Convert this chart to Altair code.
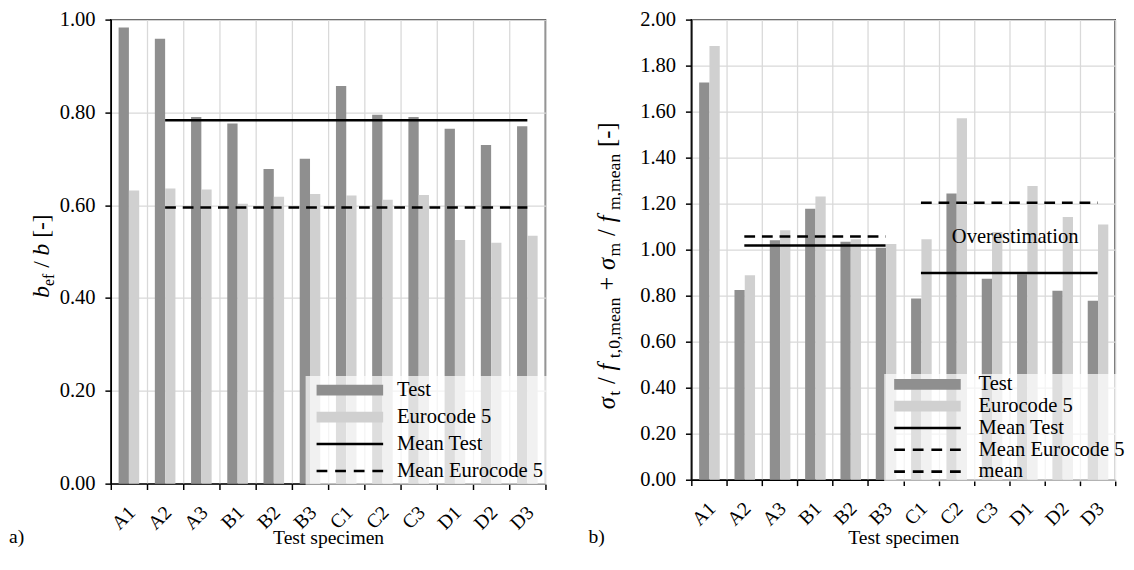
import altair as alt
import pandas as pd

FONT = "Liberation Serif"
DARK = "#8f8f8f"
LIGHT = "#d0d0d0"

SPECIMENS = ["A1", "A2", "A3", "B1", "B2", "B3", "C1", "C2", "C3", "D1", "D2", "D3"]
SERIES = ["Test", "Eurocode 5"]

# panel a)
LEFT_TEST = [0.983, 0.959, 0.790, 0.776, 0.678, 0.700, 0.857, 0.795, 0.790, 0.765, 0.730, 0.770]
LEFT_EC5 = [0.632, 0.636, 0.634, 0.603, 0.618, 0.624, 0.621, 0.612, 0.622, 0.525, 0.519, 0.534]
LEFT_MEAN_LABELS = ["Mean Test", "Mean Eurocode 5"]
LEFT_MEAN_VALUES = [0.783, 0.595]
LEFT_MEAN_FROM = ["A2", "A2"]
LEFT_MEAN_TO = ["D3", "D3"]
LEFT_TICKS = [0.0, 0.2, 0.4, 0.6, 0.8, 1.0]

# panel b)
RIGHT_TEST = [1.727, 0.825, 1.041, 1.178, 1.034, 1.008, 0.788, 1.244, 0.874, 0.893, 0.821, 0.778]
RIGHT_EC5 = [1.885, 0.889, 1.084, 1.231, 1.045, 1.025, 1.045, 1.571, 1.077, 1.277, 1.142, 1.109]
RIGHT_MEAN_LABELS = ["Mean Test", "Mean Eurocode 5", "Mean Test", "mean"]
RIGHT_MEAN_VALUES = [1.018, 1.057, 0.899, 1.204]
RIGHT_MEAN_FROM = ["A2", "A2", "C1", "C1"]
RIGHT_MEAN_TO = ["B3", "B3", "D3", "D3"]
RIGHT_TICKS = [0.0, 0.2, 0.4, 0.6, 0.8, 1.0, 1.2, 1.4, 1.6, 1.8, 2.0]
ANNOTATION = ["Overestimation"]
ANNOTATION_SPEC = ["D1"]
ANNOTATION_VALUE = [1.054]

LEGEND_LEFT = ["Test", "Eurocode 5", "Mean Test", "Mean Eurocode 5"]
LEGEND_RIGHT = ["Test", "Eurocode 5", "Mean Test", "Mean Eurocode 5", "mean"]

# legend swatch shapes (unit = 10 px with symbolSize 400)
BAR_PATH = "M-1,-0.55L5.8,-0.55L5.8,0.55L-1,0.55Z"
SOLID_PATH = "M-1,-0.13L5.8,-0.13L5.8,0.13L-1,0.13Z"
DASH_PATH = ("M-1,-0.13L0.1,-0.13L0.1,0.13L-1,0.13Z "
             "M0.9,-0.13L2,-0.13L2,0.13L0.9,0.13Z "
             "M2.8,-0.13L3.9,-0.13L3.9,0.13L2.8,0.13Z "
             "M4.7,-0.13L5.8,-0.13L5.8,0.13L4.7,0.13Z")
STYLE_COLOR = {"Test": DARK, "Eurocode 5": LIGHT, "Mean Test": "black",
               "Mean Eurocode 5": "black", "mean": "black"}
STYLE_SHAPE = {"Test": BAR_PATH, "Eurocode 5": BAR_PATH, "Mean Test": SOLID_PATH,
               "Mean Eurocode 5": DASH_PATH, "mean": DASH_PATH}
STYLE_DASH = {"Mean Test": [1, 0], "Mean Eurocode 5": [11, 7], "mean": [11, 7]}

# glyph widths (em) for building the y titles from pieces
WIDTHS = {" ": 0.25, "/": 0.278, "[": 0.333, "]": 0.333, "-": 0.333, "+": 0.564,
          ",": 0.25, "0": 0.5, "e": 0.444, "f": 0.333, "t": 0.278, "m": 0.778,
          "a": 0.444, "n": 0.5, "b": 0.5, "σ": 0.55}
ITALIC_WIDTHS = {"f": 0.30, "b": 0.5, "σ": 0.55}

LEFT_TITLE = [("b", 24, True, 0, 0), ("ef", 16, False, 5, 0), ("/", 24, False, 0, 6),
              ("b", 24, True, 0, 6), ("[-]", 24, False, 0, 6)]
RIGHT_TITLE = [("σ", 25, True, 0, 0), ("t", 18, False, 5, 0), ("/", 25, False, 0, 7),
               ("f", 25, True, 0, 7), ("t,0,mean", 18, False, 5, 5), ("+", 25, False, 0, 7),
               ("σ", 25, True, 0, 7), ("m", 18, False, 5, 0), ("/", 25, False, 0, 7),
               ("f", 25, True, 0, 7), ("m,mean", 18, False, 5, 5), ("[-]", 25, False, 0, 7)]


def width_of(txt, size, italic):
    table = ITALIC_WIDTHS if italic else WIDTHS
    return sum(table.get(ch, WIDTHS.get(ch, 0.5)) for ch in txt) * size


def title_layers(pieces, x, y):
    layers = []
    pos = 0.0
    for txt, size, italic, dy, gap in pieces:
        pos += gap
        layers.append(
            alt.Chart(pd.DataFrame({"t": [txt]}))
            .mark_text(angle=270, align="left", baseline="alphabetic", dx=pos, dy=dy,
                       font=FONT, fontSize=size, fontStyle="italic" if italic else "normal",
                       color="black")
            .encode(x=alt.value(x), y=alt.value(y), text="t:N")
        )
        pos += width_of(txt, size, italic)
    return layers


AXIS_STYLE = dict(domainColor="black", domainWidth=1.5, tickColor="black", tickWidth=1.5,
                  gridColor="#d9d9d9", gridWidth=1.3, labelFont=FONT,
                  labelColor="black", titleFont=FONT, titleFontSize=20,
                  titleFontWeight="normal", titleColor="black", tickSize=6, grid=True)


def panel(test, ec, mlabels, mvalues, mfrom, mto, yticks, ymax, height, legend_labels,
          leg_x, leg_y, leg_pad, sym_off, lab_off, row_pad, title_pieces, title_x, title_y,
          tag, tag_x, xtitle_y, note=None):
    xscale = alt.Scale(domain=SPECIMENS, paddingInner=0, paddingOuter=0)
    xaxis = alt.Axis(title="Test specimen", tickBand="extent", labelAngle=-45,
                     labelAlign="right", labelBaseline="middle", labelOffset=3,
                     labelPadding=20, labelFontSize=20, titleY=xtitle_y,
                     titleBaseline="alphabetic", **AXIS_STYLE)
    yscale = alt.Scale(domain=[0, ymax], nice=False, zero=True, padding=0)
    yaxis = alt.Axis(values=yticks, format=".2f", title=None, labelPadding=10,
                     labelFontSize=21, **AXIS_STYLE)
    bars_df = pd.DataFrame({
        "spec": SPECIMENS * 2,
        "series": ["Test"] * len(test) + ["Eurocode 5"] * len(ec),
        "value": test + ec,
    })
    bars = alt.Chart(bars_df).mark_bar().encode(
        x=alt.X("spec:N", scale=xscale, axis=xaxis),
        xOffset=alt.XOffset("series:N", scale=alt.Scale(domain=SERIES, paddingOuter=0.76,
                                                       paddingInner=0)),
        y=alt.Y("value:Q", scale=yscale, axis=yaxis),
        color=alt.Color("series:N", scale=alt.Scale(domain=SERIES, range=[DARK, LIGHT]),
                        legend=None),
    )
    means_df = pd.DataFrame({"label": mlabels, "value": mvalues, "from": mfrom, "to": mto})
    dash_domain = list(dict.fromkeys(mlabels))
    means = alt.Chart(means_df).mark_rule(strokeWidth=2.5, color="black").encode(
        x=alt.X("from:N", scale=xscale),
        x2="to:N",
        y=alt.Y("value:Q", scale=yscale),
        strokeDash=alt.StrokeDash("label:N", scale=alt.Scale(
            domain=dash_domain, range=[STYLE_DASH[k] for k in dash_domain]), legend=None),
    )
    leg = alt.Legend(title=None, orient="none", legendX=leg_x, legendY=leg_y,
                     fillColor="rgba(255,255,255,0.7)", padding=leg_pad, symbolSize=400,
                     symbolOffset=sym_off, symbolStrokeWidth=0, symbolOpacity=1,
                     labelOffset=lab_off, labelFont=FONT, labelFontSize=21,
                     labelColor="black", rowPadding=row_pad, zindex=1, labelLimit=400)
    legend_layer = alt.Chart(pd.DataFrame({"series": legend_labels})).mark_point(
        filled=True, opacity=0).encode(
        color=alt.Color("series:N", scale=alt.Scale(
            domain=legend_labels, range=[STYLE_COLOR[k] for k in legend_labels]), legend=leg),
        shape=alt.Shape("series:N", scale=alt.Scale(
            domain=legend_labels, range=[STYLE_SHAPE[k] for k in legend_labels]), legend=leg),
    )
    tag_layer = alt.Chart(pd.DataFrame({"t": [tag]})).mark_text(
        align="left", baseline="alphabetic", font=FONT, fontSize=20, color="black"
    ).encode(x=alt.value(tag_x), y=alt.value(height + xtitle_y), text="t:N")
    layers = [bars, means]
    if note is not None:
        note_df = pd.DataFrame({"spec": note[0], "value": note[1], "t": note[2]})
        layers.append(alt.Chart(note_df).mark_text(
            dx=-12, font=FONT, fontSize=21, color="black").encode(
            x=alt.X("spec:N", scale=xscale), y=alt.Y("value:Q", scale=yscale), text="t:N"))
    layers += [legend_layer, tag_layer] + title_layers(title_pieces, title_x, title_y)
    return alt.layer(*layers).resolve_scale(
        color="independent", shape="independent", strokeDash="independent")


LH, RH = 474, 470
left = panel(LEFT_TEST, LEFT_EC5, LEFT_MEAN_LABELS, LEFT_MEAN_VALUES,
             LEFT_MEAN_FROM, LEFT_MEAN_TO, LEFT_TICKS, 1.0, LH, LEGEND_LEFT,
             199, LH - 110, 4, 6.7, 61.7, 5.5, LEFT_TITLE, -63, 284, "a)", -104, 61
             ).properties(width=444, height=LH)

right = panel(RIGHT_TEST, RIGHT_EC5, RIGHT_MEAN_LABELS, RIGHT_MEAN_VALUES,
              RIGHT_MEAN_FROM, RIGHT_MEAN_TO, RIGHT_TICKS, 2.0, RH, LEGEND_RIGHT,
              197, RH - 108, 0, 9.7, 65.7, 0.3, RIGHT_TITLE, -78, 398, "b)", -105, 65,
              note=(ANNOTATION_SPEC, ANNOTATION_VALUE, ANNOTATION)
              ).properties(width=433, height=RH)

chart = alt.hconcat(left, right, spacing=40).properties(
    padding={"left": 0, "top": -6, "right": 0, "bottom": 0}
).configure_view(stroke="black", strokeWidth=1.5).configure_axis(
    labelFont=FONT, titleFont=FONT
).configure_text(font=FONT)

chart.save("out.html", embed_options={"renderer": "svg", "actions": False})
